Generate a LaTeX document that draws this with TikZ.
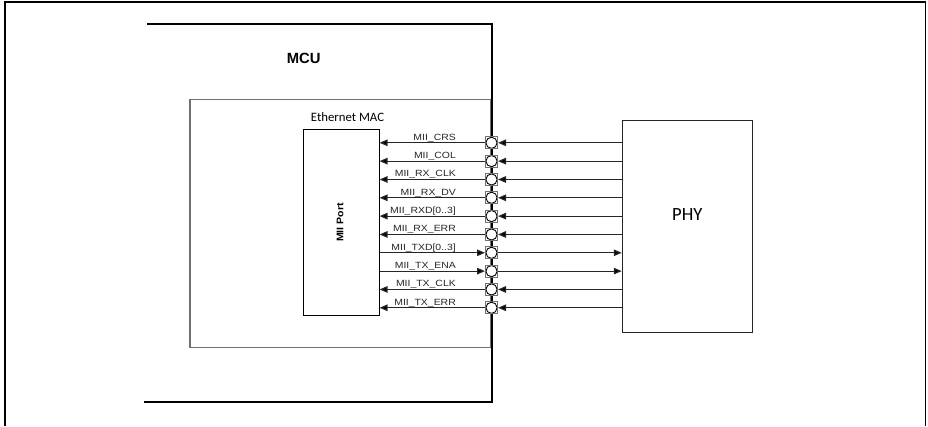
\documentclass[tikz,border=0pt]{standalone}
\usepackage{fontspec}
\usepackage{graphicx}
\setmainfont{Liberation Sans}
\newfontfamily\calib{Carlito}
\usetikzlibrary{arrows.meta}
\definecolor{ln}{HTML}{262626}
\definecolor{gbox}{HTML}{707070}
\tikzset{
  sig/.style={draw=ln, line width=1.2pt, -{Triangle[length=8pt,width=6.5pt,fill=black]}},
  pin/.style={draw=gbox, fill=white, line width=1pt, rectangle, minimum size=12pt, inner sep=0pt,
    path picture={\draw[black, line width=0.9pt, fill=white] (path picture bounding box.center) circle[radius=5.6pt];}},
  lab/.style={anchor=base east, inner sep=0pt, font=\fontsize{9}{10}\selectfont, text=black!85},
}
\newcommand{\wide}[1]{\scalebox{1.16}[1]{#1}}
\begin{document}
\begin{tikzpicture}[x=1pt,y=-1pt]
\useasboundingbox (0,0) rectangle (928,426);
% outer frame
\draw[line width=1.3pt] (5,426) -- (5,2) -- (925.5,2) -- (925.5,426);
% MAC box
\node[draw=gbox, line width=1.1pt, minimum width=301pt, minimum height=248.4pt, inner sep=0pt] (mac) at (340.5,223.5) {};
\node[anchor=base west, inner sep=0pt, font=\calib\fontsize{12.8}{14}\selectfont] (macl) at (310.7,121.7) {Ethernet MAC};
% MCU box (open on the left)
\draw[line width=2.2pt] (147,24) -- (492,24) -- (492,402) -- (144,402);
\node[font=\bfseries\fontsize{14.8}{16}\selectfont, inner sep=0pt] (mcu) at (303.7,58) {MCU};
% MII port
\node[draw=black, line width=1pt, minimum width=75.7pt, minimum height=185.3pt, inner sep=0pt] (mii) at (341.2,222.6) {};
\node[rotate=90, font=\bfseries\fontsize{9.6}{11}\selectfont, inner sep=0pt] (miil) at (340,222.5) {\scalebox{1.1}[1]{MII Port}};
% PHY
\node[draw=ln, line width=1.1pt, minimum width=130pt, minimum height=211.6pt, inner sep=0pt] (phy) at (687.3,226.5) {};
\node[font=\calib\fontsize{18.6}{20}\selectfont, inner sep=0pt] (phyl) at (687.3,215) {PHY};
% pins and signals
\foreach \i/\name/\dir in {0/MII\_CRS/in,1/MII\_COL/in,2/MII\_RX\_CLK/in,3/MII\_RX\_DV/in,4/MII\_RXD[0..3]/in,
  5/MII\_RX\_ERR/in,6/MII\_TXD[0..3]/out,7/MII\_TX\_ENA/out,8/MII\_TX\_CLK/in,9/MII\_TX\_ERR/in}{
  \pgfmathsetmacro{\yy}{142.8+18.33*\i}
  \node[pin] (p\i) at (491.5,\yy) {};
  \node[lab] (l\i) at (456,\yy-2.6) {\wide{\name}};
}
\foreach \i in {0,1,2,3,4,5,8,9}{
  \draw[sig] (phy.west |- p\i) -- (p\i.east);
  \draw[sig] (p\i.west) -- (mii.east |- p\i);
}
\foreach \i in {6,7}{
  \draw[sig] (mii.east |- p\i) -- (p\i.west);
  \draw[sig] (p\i.east) -- (phy.west |- p\i);
}
\end{tikzpicture}
\end{document}
